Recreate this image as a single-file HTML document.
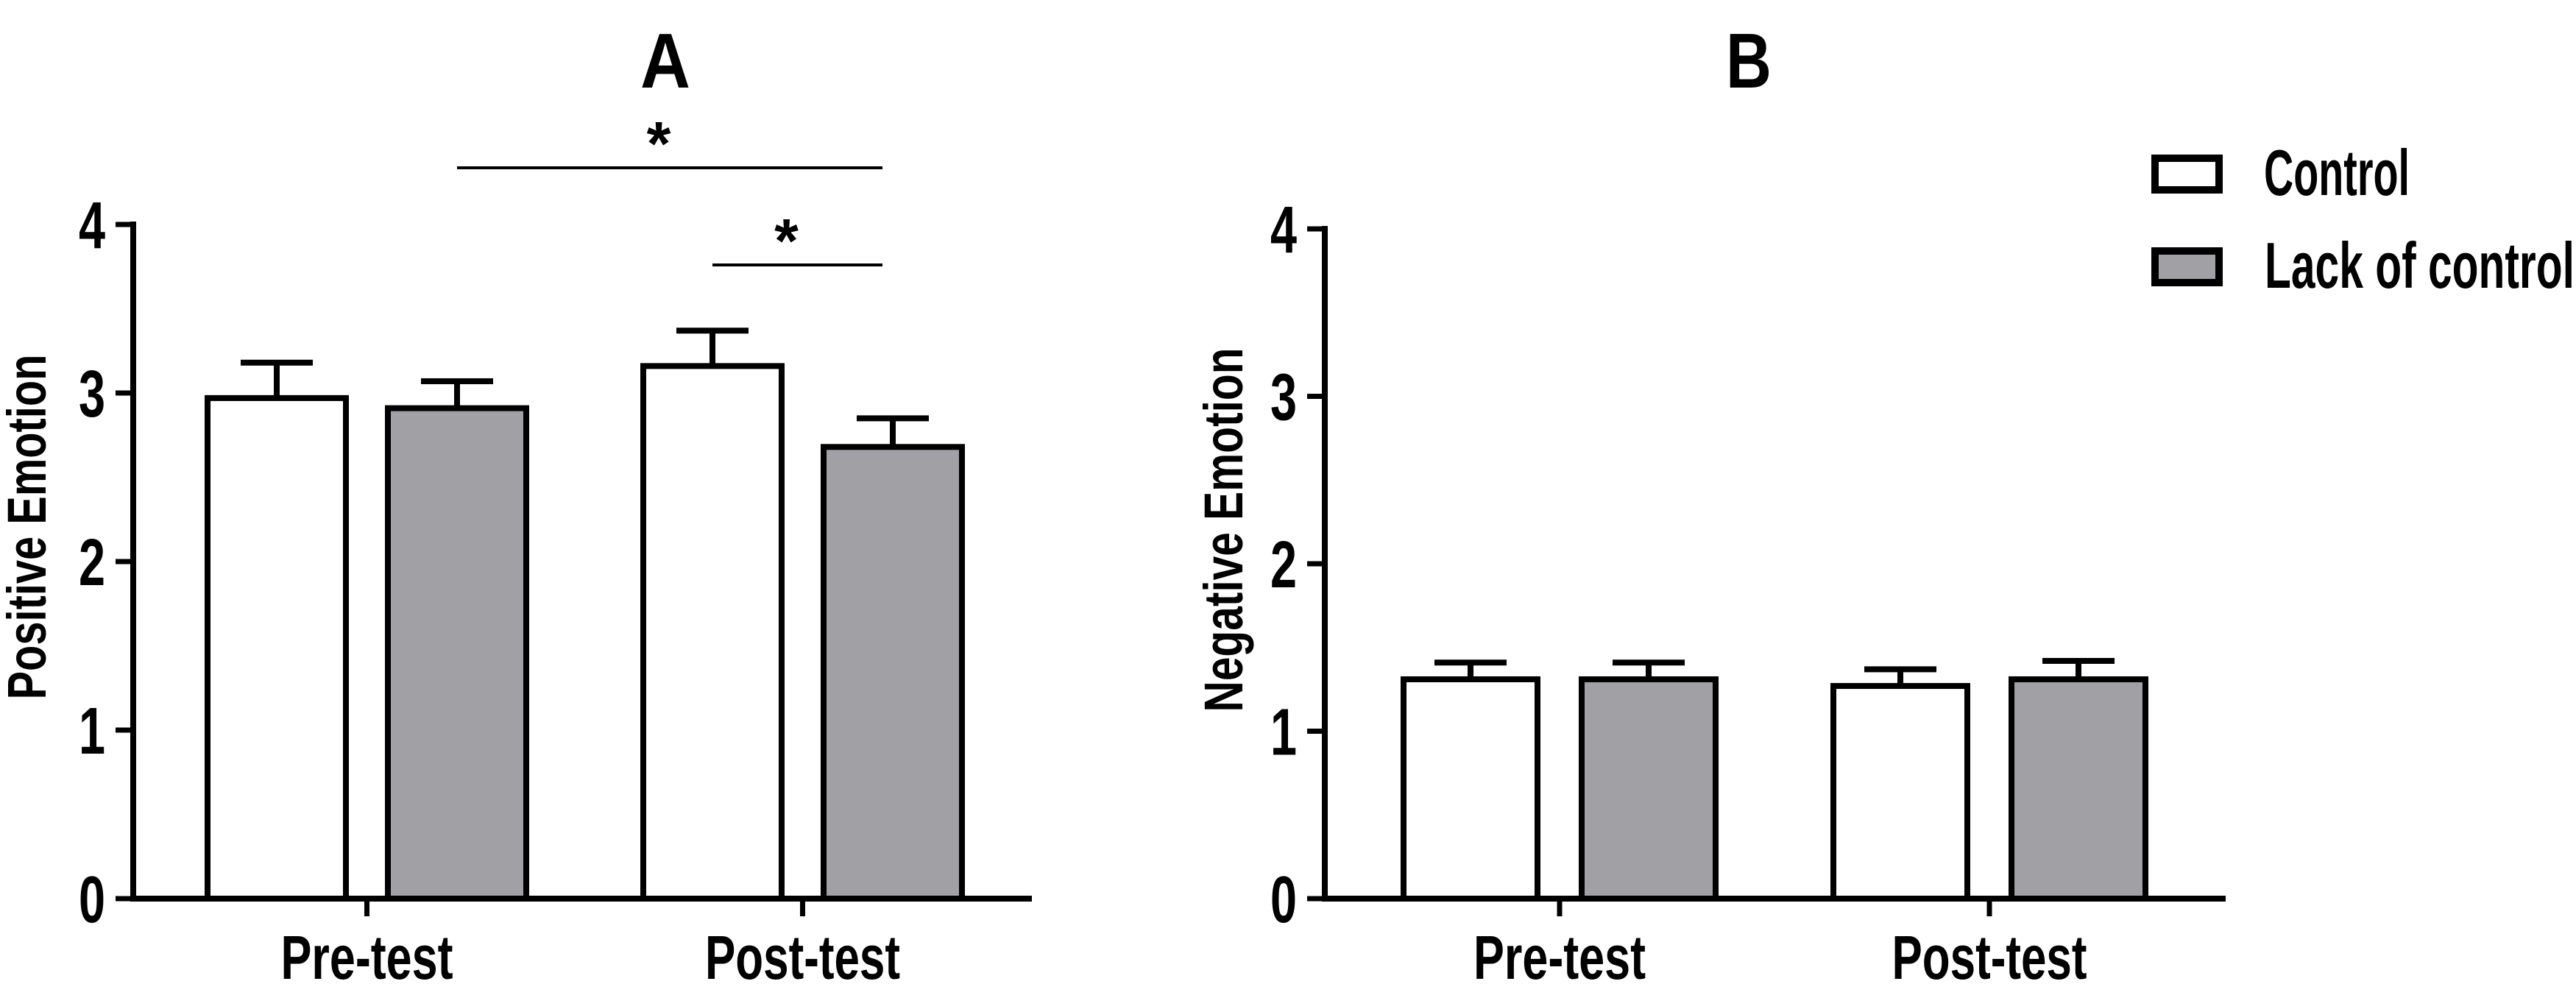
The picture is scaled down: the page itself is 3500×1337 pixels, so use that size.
<!DOCTYPE html>
<html><head><meta charset="utf-8">
<style>
html,body{margin:0;padding:0;background:#fff;}
svg{display:block;}
text{font-family:"Liberation Sans",sans-serif;font-weight:bold;fill:#000;}
</style></head>
<body>
<svg id="chart" width="3500" height="1337" viewBox="0 0 3500 1337" xmlns="http://www.w3.org/2000/svg">
<g id="panelA"></g>
<g id="panelB"></g>
<g id="legend">
 <rect x="2928" y="215" width="87" height="43" fill="#fff" stroke="#000" stroke-width="10"/>
 <text x="3076" y="265" font-size="88" textLength="198" lengthAdjust="spacingAndGlyphs">Control</text>
 <rect x="2928" y="341" width="87" height="43" fill="#a1a0a5" stroke="#000" stroke-width="10"/>
 <text x="3077" y="391" font-size="88" textLength="421" lengthAdjust="spacingAndGlyphs">Lack of control</text>
</g>
</svg>
<script>
const categories = ["Pre-test", "Post-test"];
const seriesNames = ["Control", "Lack of control"];
const yTicks = [0, 1, 2, 3, 4];
const posMeans = [[2.97, 2.91], [3.16, 2.68]];
const posErrs = [[0.21, 0.16], [0.21, 0.17]];
const negMeans = [[1.31, 1.31], [1.27, 1.31]];
const negErrs = [[0.10, 0.10], [0.10, 0.11]];
const sigLines = [[0, 1, 1, 1], [1, 0, 1, 1]]; // [catA, seriesA, catB, seriesB]

const NS = "http://www.w3.org/2000/svg";
function mk(parent, tag, attrs) {
  const e = document.createElementNS(NS, tag);
  for (const k in attrs) e.setAttribute(k, attrs[k]);
  parent.appendChild(e);
  return e;
}
const fills = ["#ffffff", "#a1a0a5"];
const catLabelLen = [234, 265];

function drawPanel(g, cfg) {
  const y = v => cfg.y0 - (v / 4) * (cfg.y0 - cfg.y4);
  const barLeft = (c, s) => cfg.catStart[c] + s * cfg.pairGap;
  const barCenter = (c, s) => barLeft(c, s) + cfg.barW / 2;
  for (let c = 0; c < categories.length; c++) {
    for (let s = 0; s < seriesNames.length; s++) {
      const m = cfg.means[c][s], e = cfg.errs[c][s];
      const cx = barCenter(c, s);
      const el = mk(g, "line", {x1: cx, x2: cx, y1: y(m), y2: y(m + e), stroke: "#000", "stroke-width": 8});
      
      
      const cap = mk(g, "line", {x1: cx - 49, x2: cx + 49, y1: y(m + e), y2: y(m + e), stroke: "#000", "stroke-width": 8});
      
      
      const r = mk(g, "rect", {x: barLeft(c, s) + 4, y: y(m), width: cfg.barW - 8, height: cfg.y0 - y(m), fill: fills[s], stroke: "#000", "stroke-width": 8});
      
      
    }
  }
  const ya = mk(g, "line", {x1: cfg.axX, x2: cfg.axX, y1: cfg.y4 - 4, y2: cfg.y0 + 4, stroke: "#000", "stroke-width": 8});
  
  
  const xa = mk(g, "line", {x1: cfg.axX - 4, x2: cfg.axEnd, y1: cfg.y0, y2: cfg.y0, stroke: "#000", "stroke-width": 8});
  
  
  yTicks.forEach(t => {
    const tk = mk(g, "line", {x1: cfg.axX - 24, x2: cfg.axX, y1: y(t), y2: y(t), stroke: "#000", "stroke-width": 7});
    
    
    const tl = mk(g, "text", {x: 0, y: 0, "font-size": 90, "text-anchor": "end", transform: `translate(${cfg.axX - 38},${y(t) + 32}) scale(0.72,1)`});
    tl.textContent = t;
    
    
  });
  categories.forEach((c, i) => {
    const cx = (barLeft(i, 0) + barLeft(i, 1) + cfg.barW) / 2;
    const tk = mk(g, "line", {x1: cx, x2: cx, y1: cfg.y0, y2: cfg.y0 + 24, stroke: "#000", "stroke-width": 7});
    
    
    const tl = mk(g, "text", {x: cx - catLabelLen[i] / 2, y: 1330, "font-size": 84, textLength: catLabelLen[i], lengthAdjust: "spacingAndGlyphs"});
    tl.textContent = c;
    
    
  });
  const yl = mk(g, "text", {x: -cfg.ylLen / 2, y: 0, "font-size": 74, textLength: cfg.ylLen, lengthAdjust: "spacingAndGlyphs", transform: `translate(${cfg.ylX},${cfg.ylY}) rotate(-90)`});
  yl.textContent = cfg.ylabel;
  
  
  const tt = mk(g, "text", {x: cfg.titleX - cfg.titleLen / 2, y: 119, "font-size": 106, textLength: cfg.titleLen, lengthAdjust: "spacingAndGlyphs"});
  tt.textContent = cfg.title;
  
  
  if (cfg.sig) {
    cfg.sig.forEach((sg, i) => {
      const x1 = barCenter(sg[0], sg[1]), x2 = barCenter(sg[2], sg[3]) - 14;
      const ly = i === 0 ? 228 : 360;
      const l = mk(g, "line", {x1: x1, x2: x2, y1: ly, y2: ly, stroke: "#000", "stroke-width": 4});
      
      
      const st = mk(g, "text", {x: (x1 + x2) / 2 - 15, y: ly - 4, "font-size": 84, "font-weight": "normal", "text-anchor": "middle"});
      st.textContent = "*";
      
      
    });
  }
}

drawPanel(document.getElementById("panelA"), {
  means: posMeans, errs: posErrs, y0: 1221, y4: 305, axX: 181, axEnd: 1402,
  catStart: [278, 870], pairGap: 245, barW: 196, ylabel: "Positive Emotion", ylLen: 469,
  ylX: 62, ylY: 716, title: "A", titleX: 904, titleLen: 68, sig: sigLines
});
drawPanel(document.getElementById("panelB"), {
  means: negMeans, errs: negErrs, y0: 1221, y4: 311, axX: 1800, axEnd: 3024,
  catStart: [1903, 2487], pairGap: 242, barW: 190, ylabel: "Negative Emotion", ylLen: 495,
  ylX: 1688, ylY: 720, title: "B", titleX: 2376, titleLen: 62, sig: null
});
</script>
</body></html>
